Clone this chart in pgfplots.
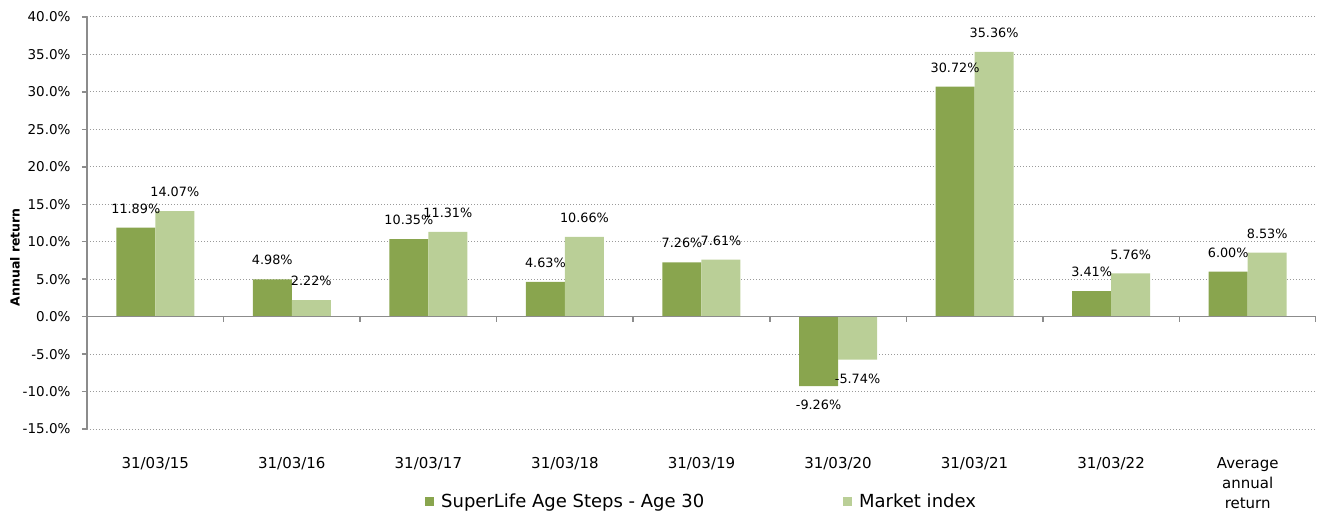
\documentclass[border=0pt]{standalone}
\usepackage{pgfplots}
\pgfplotsset{compat=1.18}
\usepackage{fontspec}
\setmainfont{DejaVu Sans}
\definecolor{darkg}{HTML}{89A54E}
\definecolor{lightg}{HTML}{BACF97}
\definecolor{axgray}{HTML}{8C8C8C}
\definecolor{gridgray}{HTML}{9A9A9A}
\begin{document}
\begin{tikzpicture}
\path[use as bounding box] (-87pt,-85pt) rectangle (1230pt,429pt);
\begin{axis}[
  at={(0pt,0pt)}, anchor=south west,
  scale only axis, width=1229pt, height=412pt,
  xmin=-0.5, xmax=8.5, ymin=-15, ymax=40,
  ybar=0pt, bar width=39pt,
  axis x line*=bottom, axis y line*=left,
  x axis line style={draw=none},
  y axis line style={draw=axgray, line width=1.5pt},
  xtick={0,...,8},
  xticklabels={31/03/15,31/03/16,31/03/17,31/03/18,31/03/19,31/03/20,31/03/21,31/03/22,{Average\\annual\\return}},
  xticklabel style={align=center, anchor=north, yshift=-20pt, font=\fontsize{15}{20}\selectfont},
  x tick style={draw=none},
  ytick={-15,-10,...,40},
  y tick style={draw=axgray, line width=1.5pt},
  tick align=outside, major tick length=5pt,
  /pgf/number format/assume math mode=true,
  yticklabel={\pgfmathprintnumber[fixed,fixed zerofill,precision=1]{\tick}\%},
  yticklabel style={font=\fontsize{13.5}{16}\selectfont, xshift=-8pt},
  ymajorgrids, grid style={gridgray, line width=1pt, dash pattern=on 1.2pt off 1.8pt},
  ylabel={Annual return},
  ylabel style={at={(axis description cs:-0.0586,0.417)}, anchor=center, font=\bfseries\fontsize{12.5}{14}\selectfont},
  nodes near coords={\pgfmathprintnumber[fixed,fixed zerofill,precision=2]{\pgfplotspointmeta}\%},
  every node near coord/.append style={font=\fontsize{12.8}{14}\selectfont, inner ysep=14pt, inner xsep=0pt, text=black},
  legend style={draw=none, fill=none, at={(0.275,-0.175)}, anchor=west, inner sep=0pt, font=\fontsize{18}{21}\selectfont},
  legend cell align=left,
  legend columns=2,
  legend image code/.code={\fill[#1] (0pt,-4.5pt) rectangle (9pt,4.5pt);},
]
\addplot[fill=darkg, draw=none] coordinates {(0,11.89) (1,4.98) (2,10.35) (3,4.63) (4,7.26) (5,-9.26) (6,30.72) (7,3.41) (8,6.00)};
\addlegendentry{\hspace{5pt}\makebox[400pt][l]{SuperLife Age Steps - Age 30}}
\addplot[fill=lightg, draw=none] coordinates {(0,14.07) (1,2.22) (2,11.31) (3,10.66) (4,7.61) (5,-5.74) (6,35.36) (7,5.76) (8,8.53)};
\addlegendentry{\hspace{5pt}Market index}
\draw[axgray, line width=1.5pt] (axis cs:-0.5,0) -- (axis cs:8.5,0);
\pgfplotsinvokeforeach{-0.5,0.5,...,8.5}{\draw[axgray,line width=1.5pt] (axis cs:#1,0) -- ++(0pt,-5pt);}
\end{axis}
\end{tikzpicture}
\end{document}
